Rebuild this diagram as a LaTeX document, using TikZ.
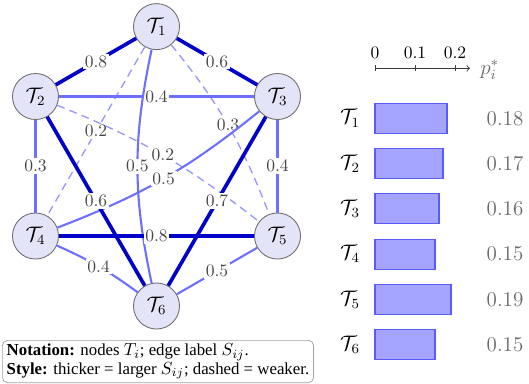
\documentclass[tikz,border=0pt]{standalone}
\usepackage{amsmath,amssymb}
\usepackage{fontspec}
\usepackage{tikz}
\newfontfamily\notefont{Liberation Serif}

\definecolor{edgedark}{RGB}{0,0,200}
\definecolor{edgemid}{RGB}{110,110,255}
\definecolor{edgeweak}{RGB}{150,150,255}
\definecolor{nodefill}{RGB}{228,228,248}
\definecolor{barfill}{RGB}{165,165,255}
\definecolor{barline}{RGB}{90,90,255}
\definecolor{lblgray}{RGB}{70,70,70}
\definecolor{valgray}{RGB}{105,105,105}

\begin{document}
\begin{tikzpicture}[x=0.5714pt,y=0.5714pt,yscale=-1,xscale=1,
  tnode/.style={circle,draw={rgb,255:red,110;green,110;blue,110},line width=0.5pt,fill=nodefill,minimum size=26.3pt,inner sep=0pt,font=\large},
  strong/.style={draw=edgedark,line width=2.1pt},
  mid/.style={draw=edgemid,line width=1.2pt},
  weak/.style={draw=edgeweak,line width=0.75pt,dash pattern={on 4.5pt off 3pt}},
  lbl/.style={fill=white,inner sep=1pt,text=lblgray},
  bar/.style={draw=barline,line width=0.6pt,fill=barfill},
  axis/.style={draw={rgb,255:red,60;green,60;blue,60},line width=0.5pt}]

\useasboundingbox (0,0) rectangle (529,383);

% graph nodes
\node[tnode] (t1) at (156.5,26.6) {$\mathcal{T}_1$};
\node[tnode] (t2) at (35.5,96.5) {$\mathcal{T}_2$};
\node[tnode] (t3) at (277.5,96.5) {$\mathcal{T}_3$};
\node[tnode] (t4) at (35.5,236) {$\mathcal{T}_4$};
\node[tnode] (t5) at (277.5,236) {$\mathcal{T}_5$};
\node[tnode] (t6) at (156.5,306) {$\mathcal{T}_6$};

% weak links
\draw[weak] (t1) -- node[lbl]{0.2} (t4);
\draw[weak] (t1) to[bend right=9] node[lbl]{0.3} (t5);
\draw[weak] (t2) to[bend right=8] node[lbl]{0.2} (t5);

% medium links
\draw[mid] (t2) -- node[lbl]{0.4} (t3);
\draw[mid] (t2) -- node[lbl]{0.3} (t4);
\draw[mid] (t3) -- node[lbl]{0.4} (t5);
\draw[mid] (t4) to[bend right=6] node[lbl]{0.4} (t6);
\draw[mid] (t5) -- node[lbl]{0.5} (t6);
\draw[mid] (t1) to[bend left=12] node[lbl]{0.5} (t6);
\draw[mid] (t3) to[bend right=9] node[lbl]{0.5} (t4);

% strong links
\draw[strong] (t1) -- node[lbl]{0.8} (t2);
\draw[strong] (t1) -- node[lbl]{0.6} (t3);
\draw[strong] (t4) -- node[lbl]{0.8} (t5);
\draw[strong] (t2) -- node[lbl]{0.6} (t6);
\draw[strong] (t3) -- node[lbl]{0.7} (t6);

% axis for p_i^*
\coordinate (a0) at (375,68.3);
\coordinate (a1) at (470,68.3);
\draw[axis,->] (a0) -- (a1);
\draw[axis] (375,65.3) -- (375,71.3);
\draw[axis] (415,65.3) -- (415,71.3);
\draw[axis] (455,65.3) -- (455,71.3);
\node (k0) at (375,53) {0};
\node (k1) at (415,53) {0.1};
\node (k2) at (455,53) {0.2};
\node[anchor=west,inner sep=0pt,text=valgray,font=\large] (pl) at (480,70) {$p_i^*$};

% bars
\draw[bar] (375,103.3) rectangle (447,133.3);
\draw[bar] (375,148.6) rectangle (443,178.6);
\draw[bar] (375,193.9) rectangle (439,223.9);
\draw[bar] (375,239.2) rectangle (435,269.2);
\draw[bar] (375,284.5) rectangle (451,314.5);
\draw[bar] (375,329.8) rectangle (435,359.8);

\node[font=\large] (b1) at (350,118.3) {$\mathcal{T}_1$};
\node[font=\large] (b2) at (350,163.6) {$\mathcal{T}_2$};
\node[font=\large] (b3) at (350,208.9) {$\mathcal{T}_3$};
\node[font=\large] (b4) at (350,254.2) {$\mathcal{T}_4$};
\node[font=\large] (b5) at (350,299.5) {$\mathcal{T}_5$};
\node[font=\large] (b6) at (350,344.8) {$\mathcal{T}_6$};

\node[font=\large,text=valgray] (v1) at (505,118.3) {0.18};
\node[font=\large,text=valgray] (v2) at (505,163.6) {0.17};
\node[font=\large,text=valgray] (v3) at (505,208.9) {0.16};
\node[font=\large,text=valgray] (v4) at (505,254.2) {0.15};
\node[font=\large,text=valgray] (v5) at (505,299.5) {0.19};
\node[font=\large,text=valgray] (v6) at (505,344.8) {0.15};

% notation box
\node[anchor=north west,draw={rgb,255:red,160;green,160;blue,160},line width=0.4pt,rounded corners=3pt,
  align=left,inner xsep=2.5pt,inner ysep=2pt,font=\notefont\fontsize{9.6}{10.5}\selectfont] (note) at (2,340)
  {\textbf{Notation:} nodes $T_i$; edge label $S_{ij}$.\\ \textbf{Style:} thicker = larger $S_{ij}$; dashed = weaker.};

\end{tikzpicture}
\end{document}
